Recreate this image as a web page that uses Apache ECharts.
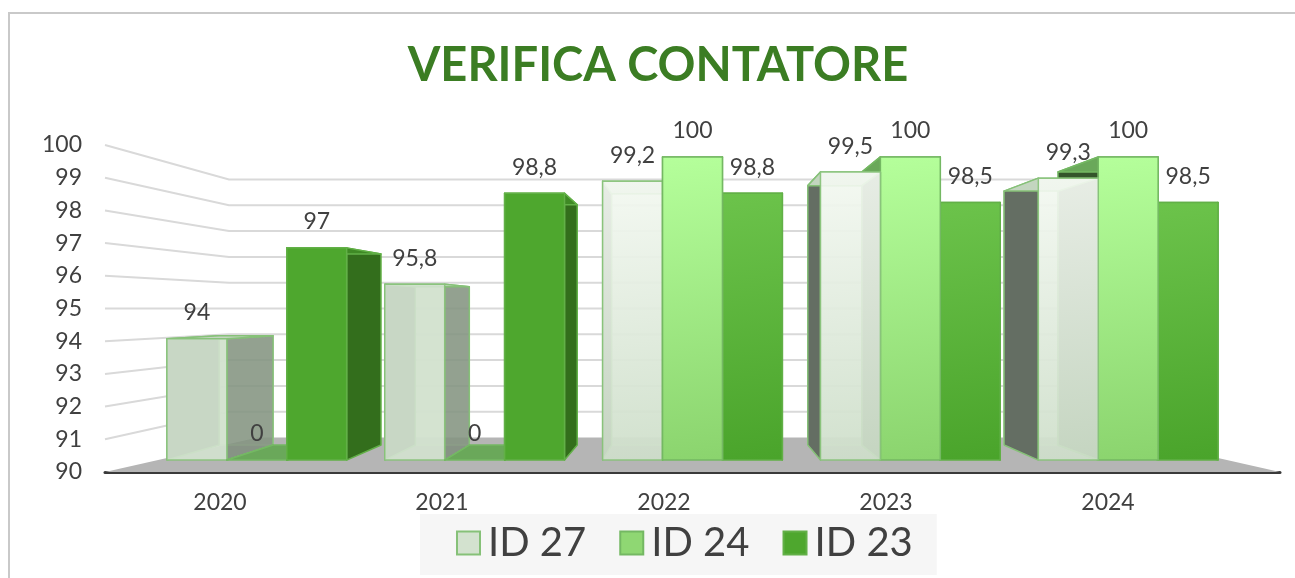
<!DOCTYPE html>
<html>
<head>
<meta charset="utf-8">
<script src="https://cdn.jsdelivr.net/npm/echarts@6/dist/echarts.min.js"></script>
<style>
  html, body { margin: 0; padding: 0; background: #fff; }
  #frame { position: absolute; left: 8px; top: 12px; right: 0; bottom: 0; border-top: 2px solid #c9c9c9; border-left: 2px solid #c9c9c9; }
  #chart { position: absolute; left: 0; top: 0; width: 1295px; height: 578px; }
</style>
</head>
<body>
<div id="frame"></div>
<div id="chart"></div>
<script>
const years = ['2020', '2021', '2022', '2023', '2024'];
const id27 = [94, 95.8, 99.2, 99.5, 99.3];
const id24 = [0, 0, 100, 100, 100];
const id23 = [97, 98.8, 98.8, 98.5, 98.5];
const yTicks = [91, 92, 93, 94, 95, 96, 97, 98, 99, 100];
const yMin = 90, yMax = 100;

// depth of each plane, as a scale toward the vanishing point (plot centre)
const S_FRONT = 0.927, S_BACK = 0.835, S_WALL = 0.789, S_FLOOR_X = 0.74;
const FONT = 'Lato';

const looks = [
  { name: 'ID 27', flat: '#d3e2cf', grad: ['#f6faf4', '#cfdfcb'], sideR: 'rgba(120,136,118,0.75)', sideL: '#646e63', top: '#c3d5bf', stroke: '#86c178', alpha: 0.9 },
  { name: 'ID 24', flat: '#8fd773', grad: ['#b5ff9b', '#8bd46e'], sideR: '#5e9b4b', sideL: '#34552b', top: '#6aa85a', stroke: '#74b863', alpha: 1 },
  { name: 'ID 23', flat: '#4ea72e', grad: ['#6cc34b', '#4aa42b'], sideR: '#336e1c', sideL: '#2d5d1d', top: '#3f8a25', stroke: '#62b047', alpha: 1 }
];

function proj(p, s, c) {
  return [c[0] + (p[0] - c[0]) * s, c[1] + (p[1] - c[1]) * s];
}

function fmt(v) {
  return String(v).replace('.', ',');
}

function barRender(k) {
  const look = looks[k];
  return function (params, api) {
    const cs = params.coordSys;
    const c = [cs.x + cs.width / 2, cs.y + cs.height / 2];
    const i = api.value(0);
    const raw = api.value(1);
    const v = Math.max(raw, yMin);
    const w = api.size([1, 0])[0] * 0.275;
    const cx = api.coord([i, yMin])[0] + (k - 1) * w;
    const yT = api.coord([i, v])[1];
    const yB = api.coord([i, yMin])[1];
    const xl = cx - w / 2, xr = cx + w / 2;
    const f = p => proj(p, S_FRONT, c);
    const b = p => proj(p, S_BACK, c);
    const fTL = f([xl, yT]), fTR = f([xr, yT]), fBR = f([xr, yB]), fBL = f([xl, yB]);
    const bTL = b([xl, yT]), bTR = b([xr, yT]), bBR = b([xr, yB]), bBL = b([xl, yB]);
    const base = Math.round(4000 - Math.abs(cx - c[0]) * 2) * 4;
    const useGrad = i >= 2;
    const frontFill = useGrad
      ? new echarts.graphic.LinearGradient(0, 0, 0.6, 1, [{ offset: 0, color: look.grad[0] }, { offset: 1, color: look.grad[1] }])
      : look.flat;
    const edge = { stroke: look.stroke, lineWidth: 1.5, lineJoin: 'round' };
    const children = [];
    if (k === 0) {
      children.push({ type: 'polygon', z2: base, shape: { points: [bTL, bTR, bBR, bBL] }, style: { fill: 'rgba(200,220,195,0.5)', stroke: '#c2dbbb', lineWidth: 1.5 } });
    }
    children.push(
      { type: 'polygon', z2: base + 1, shape: { points: [fTL, bTL, bBL, fBL] }, style: Object.assign({ fill: look.sideL }, edge) },
      { type: 'polygon', z2: base + 1, shape: { points: [fTR, bTR, bBR, fBR] }, style: Object.assign({ fill: look.sideR }, edge) },
      { type: 'polygon', z2: base + 1, shape: { points: [fTL, fTR, bTR, bTL] }, style: Object.assign({ fill: look.top }, edge) }
    );
    if (v > yMin) {
      children.push({ type: 'polygon', z2: base + 2, shape: { points: [fTL, fTR, fBR, fBL] }, style: Object.assign({ fill: frontFill, opacity: look.alpha }, edge) });
    }
    children.push({
      type: 'text', z2: 100000,
      style: { text: fmt(raw), x: (fTL[0] + fTR[0]) / 2, y: fTL[1] - 26, align: 'center', verticalAlign: 'middle', fontFamily: FONT, fontSize: 23, fill: '#404040' }
    });
    return { type: 'group', children: children };
  };
}

function wallRender(params, api) {
  const cs = params.coordSys;
  const c = [cs.x + cs.width / 2, cs.y + cs.height / 2];
  const y = api.coord([0, api.value(1)])[1];
  const l = [cs.x, y], r = [cs.x + cs.width, y];
  return {
    type: 'polyline',
    shape: { points: [l, proj(l, S_WALL, c), proj(r, S_WALL, c)] },
    style: { stroke: '#d9d9d9', lineWidth: 2, fill: null }
  };
}

function floorRender(params, api) {
  const cs = params.coordSys;
  const c = [cs.x + cs.width / 2, cs.y + cs.height / 2];
  const yb = cs.y + cs.height;
  const l = cs.x, r = cs.x + cs.width;
  const backY = c[1] + (yb - c[1]) * S_WALL;
  return {
    type: 'polygon',
    shape: { points: [[l, yb], [r, yb], [c[0] + (r - c[0]) * S_FLOOR_X, backY], [c[0] + (l - c[0]) * S_FLOOR_X, backY]] },
    style: { fill: '#b5b5b5' }
  };
}

const chart = echarts.init(document.getElementById('chart'));
const seriesVals = [id27, id24, id23];

chart.setOption({
  backgroundColor: 'transparent',
  animation: false,
  title: {
    text: 'VERIFICA CONTATORE',
    left: 653, top: 37, textAlign: 'center',
    textStyle: { fontFamily: FONT, fontWeight: 'bold', fontSize: 47, color: '#3b7d23' }
  },
  legend: {
    left: 420, top: 514,
    padding: [9, 24, 12, 36],
    backgroundColor: '#f6f6f6',
    itemWidth: 23, itemHeight: 23, itemGap: 33,
    icon: 'rect',
    textStyle: { fontFamily: FONT, fontSize: 40, color: '#404040', padding: [0, 0, 0, 3] },
    data: looks.map(l => ({ name: l.name, itemStyle: { color: l.flat, borderColor: l.stroke, borderWidth: 2 } }))
  },
  grid: [
    { left: 105, right: 15, top: 145, bottom: 106 },
    { left: 109, right: 76, top: 145, bottom: 106 }
  ],
  xAxis: [
    { type: 'category', data: years, gridIndex: 0, axisLabel: { show: false }, axisTick: { show: false },
      axisLine: { lineStyle: { color: '#3a3a3a', width: 3 } } },
    { type: 'category', data: years, gridIndex: 1, axisTick: { show: false }, axisLine: { show: false },
      axisLabel: { fontFamily: FONT, fontSize: 23, color: '#404040', margin: 19 } }
  ],
  yAxis: [
    { type: 'value', min: yMin, max: yMax, interval: 1, gridIndex: 0,
      axisLine: { show: false }, axisTick: { show: false }, splitLine: { show: false },
      axisLabel: { fontFamily: FONT, fontSize: 23, color: '#404040', margin: 23 } },
    { type: 'value', min: yMin, max: yMax, gridIndex: 1, show: false }
  ],
  series: [
    { type: 'custom', name: 'walls', z: 1, silent: true, renderItem: wallRender,
      data: yTicks.map(v => [0, v]), encode: { x: 0, y: 1 }, clip: false },
    { type: 'custom', name: 'floor', z: 1.5, silent: true, renderItem: floorRender,
      data: [[0, yMin]], encode: { x: 0, y: 1 }, clip: false }
  ].concat(seriesVals.map((vals, k) => ({
    type: 'custom', name: looks[k].name, z: 2, clip: false,
    itemStyle: { color: looks[k].flat, borderColor: looks[k].stroke },
    renderItem: barRender(k),
    data: vals.map((v, i) => [i, v]), encode: { x: 0, y: 1 }
  })))
});
</script>
</body>
</html>
